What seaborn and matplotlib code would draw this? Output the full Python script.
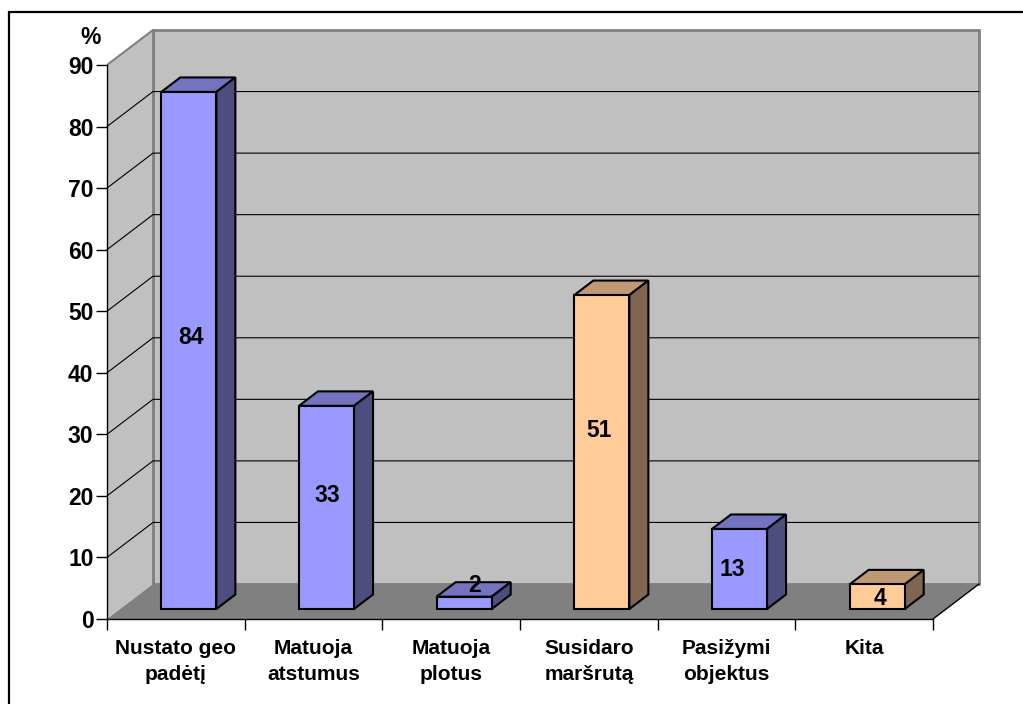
import matplotlib
matplotlib.use("Agg")
import matplotlib.pyplot as plt
from matplotlib.patches import Polygon, Rectangle
import pandas as pd
import seaborn as sns

categories = ["Nustato geo\npadėtį", "Matuoja\natstumus", "Matuoja\nplotus",
              "Susidaro\nmaršrutą", "Pasižymi\nobjektus", "Kita"]
values = [84, 33, 2, 51, 13, 4]
y_ticks = [0, 10, 20, 30, 40, 50, 60, 70, 80, 90]

W, H = 1023, 704
LEFT, RIGHT, BOTTOM, TOP = 107, 933, 619, 65

BLUE = ("#9999FF", "#7373BF", "#4D4D80")
ORANGE = ("#FFCC99", "#BF9973", "#806650")
faces = [BLUE, BLUE, BLUE, ORANGE, BLUE, ORANGE]

sns.set_theme(style="white")
plt.rcParams["font.family"] = ["Liberation Sans", "DejaVu Sans"]
plt.rcParams["font.weight"] = "bold"

fig = plt.figure(figsize=(W / 100, H / 100), dpi=100, facecolor="white")
ax = fig.add_axes([LEFT / W, 1 - BOTTOM / H, (RIGHT - LEFT) / W, (BOTTOM - TOP) / H])
ax.patch.set_visible(False)

# Category axis spans six unit slots; screen-pixel steps converted to data units.
px_x = 6 / (RIGHT - LEFT)
px_y = 90 / (BOTTOM - TOP)
X0, X1 = -0.5, 5.5
wall_dx, wall_dy = 46 * px_x, 35 * px_y
bar_dx, bar_dy = 13 * px_x, 10 * px_y
box_dx, box_dy = 19 * px_x, 14.5 * px_y


def poly(points, face, edge="none", lw=0.0, z=1):
    ax.add_patch(Polygon(points, closed=True, facecolor=face, edgecolor=edge,
                         linewidth=lw, zorder=z, clip_on=False, joinstyle="miter"))


# Walls and floor of the box
poly([(X0 + wall_dx, wall_dy), (X1 + wall_dx, wall_dy), (X1 + wall_dx, 90 + wall_dy),
      (X0 + wall_dx, 90 + wall_dy)], "#C0C0C0", "#808080", 2.0, 0.5)
poly([(X0, 0), (X0 + wall_dx, wall_dy), (X0 + wall_dx, 90 + wall_dy), (X0, 90)],
     "#C0C0C0", z=0.6)
poly([(X0, 0), (X1, 0), (X1 + wall_dx, wall_dy), (X0 + wall_dx, wall_dy)], "#808080", z=0.7)
ax.plot([X0, X0 + wall_dx], [90, 90 + wall_dy], color="#808080", lw=1.5, zorder=0.8, clip_on=False)
ax.plot([X0 + wall_dx, X0 + wall_dx], [wall_dy, 90 + wall_dy], color="#808080", lw=2, zorder=0.8,
        clip_on=False)
ax.plot([X1, X1 + wall_dx], [0, wall_dy], color="black", lw=1, zorder=0.9, clip_on=False)

# Gridlines wrap from the side wall onto the back wall
for v in y_ticks[1:-1]:
    ax.plot([X0, X0 + wall_dx, X1 + wall_dx], [v, v + wall_dy, v + wall_dy],
            color="black", lw=0.8, zorder=0.9, clip_on=False)

df = pd.DataFrame({"category": categories, "value": values})
sns.barplot(data=df, x="category", y="value", hue="category",
            palette=[f[0] for f in faces], legend=False, width=0.4, saturation=1,
            edgecolor="black", linewidth=1.5, ax=ax, zorder=3)
bars = [b for container in ax.containers for b in container]

# Value labels sit slightly off the centre of each bar's front face (pixels)
label_shift_x = [2, 1, 10, -3, -7, 3]
label_shift_y = [13, 12, 17, 22, -1, -2]
for patch, val, face, sx, sy in zip(bars, values, faces, label_shift_x, label_shift_y):
    patch.set_x(patch.get_x() + bar_dx)
    patch.set_y(bar_dy)
    patch.set_clip_on(False)
    x0, x1 = patch.get_x(), patch.get_x() + patch.get_width()
    y0, y1 = bar_dy, bar_dy + val
    poly([(x0, y1), (x1, y1), (x1 + box_dx, y1 + box_dy), (x0 + box_dx, y1 + box_dy)],
         face[1], "black", 1.5, 2.8)
    poly([(x1, y0), (x1 + box_dx, y0 + box_dy), (x1 + box_dx, y1 + box_dy), (x1, y1)],
         face[2], "black", 1.5, 2.8)
    ax.annotate(str(val), xy=((x0 + x1) / 2, (y0 + y1) / 2), xytext=(sx * 0.72, sy * 0.72),
                textcoords="offset points", ha="center", va="center",
                fontsize=16.5, fontweight="bold", color="black", zorder=6)

ax.set_xlim(X0, X1)
ax.set_ylim(0, 90)
ax.set_xlabel("")
ax.set_ylabel("")
sns.despine(ax=ax)
for side in ("left", "bottom"):
    ax.spines[side].set_color("black")
    ax.spines[side].set_linewidth(1.0)
    ax.spines[side].set_zorder(2)

ax.set_yticks(y_ticks)
ax.set_yticklabels([str(v) for v in y_ticks], fontsize=16.5, fontweight="bold", color="black")
ax.tick_params(axis="y", which="major", left=True, length=8, width=1, color="black", pad=1.7)

ax.set_xticks([i - 0.5 for i in range(7)])
ax.set_xticklabels([])
ax.set_xticks(range(6), minor=True)
ax.set_xticklabels(categories, minor=True, fontsize=15, fontweight="bold", color="black",
                   linespacing=1.45)
ax.tick_params(axis="x", which="major", bottom=True, length=8, width=1, color="black")
ax.tick_params(axis="x", which="minor", bottom=False, length=0, pad=14.5)

ax.annotate("%", xy=(0, 1), xycoords="axes fraction", xytext=(-12, 20),
            textcoords="offset points", ha="center", va="center",
            fontsize=16.5, fontweight="bold", color="black")

# Frame around the whole chart, running off the right and bottom edges
fig.add_artist(Rectangle((9 / W, -0.02), 1.1, 1 - 12 / H + 0.02, transform=fig.transFigure,
                         facecolor="none", edgecolor="black", linewidth=1.6))

fig.savefig("out.png", dpi=100, facecolor="white")
